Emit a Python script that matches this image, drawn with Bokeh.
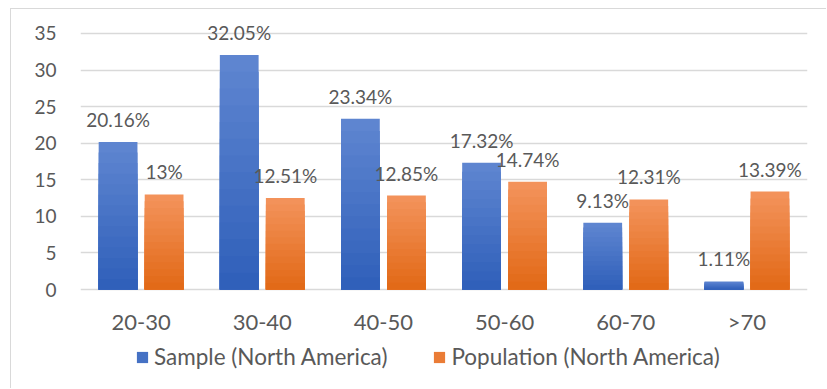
from bokeh.plotting import figure
from bokeh.models import (ColumnDataSource, FactorRange, Range1d, LabelSet, Legend,
                          LegendItem, FixedTicker)
from bokeh.core.properties import value
from bokeh.transform import dodge
from bokeh.embed import file_html
from bokeh.resources import INLINE

categories = ["20-30", "30-40", "40-50", "50-60", "60-70", ">70"]
sample = [20.16, 32.05, 23.34, 17.32, 9.13, 1.11]
population = [13, 12.51, 12.85, 14.74, 12.31, 13.39]
series_names = ["Sample (North America)", "Population (North America)"]
y_ticks = [0, 5, 10, 15, 20, 25, 30, 35]

FONT = "Lato"
TXT = "#595959"
BLUE_TOP, BLUE_BOT = (0x5E, 0x85, 0xD0), (0x30, 0x60, 0xBA)
ORANGE_TOP, ORANGE_BOT = (0xF3, 0x92, 0x5A), (0xE2, 0x6A, 0x18)
N_STEPS = 14


def mix(c1, c2, t):
    return "#%02x%02x%02x" % tuple(round(a + (b - a) * t) for a, b in zip(c1, c2))


src = ColumnDataSource(dict(
    cat=categories,
    sample=sample,
    population=population,
    sample_lbl=[f"{v:g}%" for v in sample],
    pop_lbl=[f"{v:g}%" for v in population],
    zero=[0] * len(categories),
))

p = figure(width=816, height=380, x_range=FactorRange(*categories),
           y_range=Range1d(-12.44, 37.46),
           output_backend="svg", toolbar_location=None,
           min_border_left=69, min_border_right=20, min_border_top=6, min_border_bottom=9)
p.margin = (8, 0, 0, 10)
p.styles = {"border-top": "1px solid #D9D9D9", "border-left": "1px solid #D9D9D9"}
p.outline_line_color = None
p.background_fill_color = "white"
p.border_fill_color = "white"
p.xaxis.visible = False

# gradient bars: overlapping bars, each shorter and darker than the previous
renderers = {}
for col, off, ctop, cbot in (("sample", -0.19, BLUE_TOP, BLUE_BOT),
                             ("population", 0.19, ORANGE_TOP, ORANGE_BOT)):
    vals = src.data[col]
    for k in range(N_STEPS):
        frac = (N_STEPS - k) / N_STEPS
        seg = ColumnDataSource(dict(cat=categories, top=[v * frac for v in vals]))
        r = p.vbar(x=dodge("cat", off, range=p.x_range), top="top", width=0.32, source=seg,
                   fill_color=mix(ctop, cbot, k / (N_STEPS - 1)), line_color=None)
        if k == N_STEPS // 2:
            renderers[col] = r

# data labels
for col, lbl, off in (("sample", "sample_lbl", -0.19), ("population", "pop_lbl", 0.19)):
    ls = LabelSet(x=dodge("cat", off, range=p.x_range), y=col, text=lbl, source=src,
                  text_align="center", text_baseline="alphabetic", y_offset=15,
                  text_font=value(FONT), text_font_size="19px", text_color=TXT)
    p.add_layout(ls)

# category labels under the baseline
cat_lbls = LabelSet(x="cat", y="zero", text="cat", source=src,
                    text_align="center", text_baseline="alphabetic", y_offset=-40,
                    text_font=value(FONT), text_font_size="22px", text_color=TXT)
p.add_layout(cat_lbls)

p.xgrid.grid_line_color = None
p.ygrid.grid_line_color = "#D9D9D9"
p.ygrid.grid_line_width = 1.3
p.yaxis.ticker = FixedTicker(ticks=y_ticks)

ax = p.yaxis[0]
ax.axis_line_color = None
ax.major_tick_line_color = None
ax.minor_tick_line_color = None
ax.major_tick_out = 0
ax.major_tick_in = 0
ax.major_label_text_font = FONT
ax.major_label_text_color = TXT
ax.major_label_text_font_size = "19px"
ax.major_label_standoff = 24

# legend swatches use mid-gradient colours
legend = Legend(items=[LegendItem(label=series_names[0], renderers=[renderers["sample"]]),
                       LegendItem(label=series_names[1], renderers=[renderers["population"]])],
                orientation="horizontal", location=(55, 10),
                glyph_width=14, glyph_height=14, label_standoff=5, spacing=45,
                padding=0, margin=0, border_line_color=None, background_fill_alpha=0,
                label_text_font=FONT, label_text_font_size="22.5px", label_text_color=TXT)
p.add_layout(legend, "center")

open("out.html", "w").write(file_html(p, INLINE))
